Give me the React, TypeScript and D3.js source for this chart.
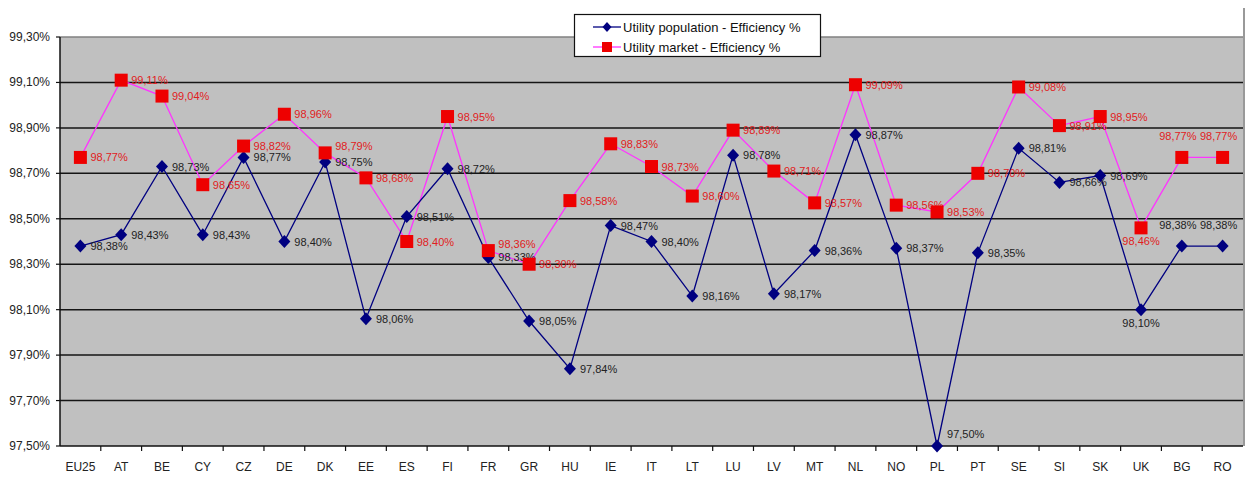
import React from "react";
import * as d3 from "d3";

const categories = ["EU25","AT","BE","CY","CZ","DE","DK","EE","ES","FI","FR","GR","HU","IE","IT","LT","LU","LV","MT","NL","NO","PL","PT","SE","SI","SK","UK","BG","RO"];
const populationEff = [98.38,98.43,98.73,98.43,98.77,98.40,98.75,98.06,98.51,98.72,98.33,98.05,97.84,98.47,98.40,98.16,98.78,98.17,98.36,98.87,98.37,97.50,98.35,98.81,98.66,98.69,98.10,98.38,98.38];
const marketEff = [98.77,99.11,99.04,98.65,98.82,98.96,98.79,98.68,98.40,98.95,98.36,98.30,98.58,98.83,98.73,98.60,98.89,98.71,98.57,99.09,98.56,98.53,98.70,99.08,98.91,98.95,98.46,98.77,98.77];
const yTicks = [97.5,97.7,97.9,98.1,98.3,98.5,98.7,98.9,99.1,99.3];
const seriesNames = ["Utility population - Efficiency %","Utility market - Efficiency %"];

// label placement for a few crowded points: "r" right, "a" above, "b" below, "ar" above-right
const popPlace: Record<string,string> = { PL: "ar", UK: "b", BG: "a", RO: "a" };
const mktPlace: Record<string,string> = { UK: "b", BG: "a", RO: "a", FR: "ru", DK: "ru" };

const W = 1245, H = 479;
const left = 60, right = 1243, top = 37, bottom = 446;
const FONT = "Arial, 'Liberation Sans', sans-serif";

const fmt = (v: number) => v.toFixed(2).replace(".", ",") + "%";

function labelPos(px: number, py: number, place: string) {
  switch (place) {
    case "a": return { x: px - 4, y: py - 17, anchor: "middle" };
    case "b": return { x: px, y: py + 17, anchor: "middle" };
    case "ar": return { x: px + 10, y: py - 8, anchor: "start" };
    case "ru": return { x: px + 10, y: py - 3, anchor: "start" };
    default: return { x: px + 10, y: py + 4, anchor: "start" };
  }
}

export default function App() {
  const x = d3.scaleBand<string>().domain(categories).range([left, right]).paddingInner(0).paddingOuter(0);
  const cx = (c: string) => (x(c) as number) + x.bandwidth() / 2;
  const y = d3.scaleLinear().domain([97.5, 99.3]).range([bottom, top]);

  const line = d3.line<number>().x((_, i) => cx(categories[i])).y((v) => y(v));

  const diamond = (px: number, py: number, r = 6) =>
    `M${px},${py - r - 0.5}L${px + r},${py}L${px},${py + r + 0.5}L${px - r},${py}Z`;

  const popColor = "#000080";
  const mktLine = "#FF33FF";
  const mktColor = "#EE0000";

  return (
    <div style={{ position: "fixed", left: 0, top: 0 }}>
      <svg width={W} height={H} style={{ display: "block", background: "#fff" }} fontFamily={FONT}>
        <rect x={left} y={top} width={right - left} height={bottom - top} fill="#C0C0C0" />
        <line x1={left} x2={right} y1={top} y2={top} stroke="#808080" strokeWidth={1.5} />
        <line x1={right + 1} x2={right + 1} y1={8} y2={bottom} stroke="#555" strokeWidth={1.2} />
        {yTicks.slice(1, -1).map((t) => (
          <line key={t} x1={left} x2={right} y1={y(t)} y2={y(t)} stroke="#151515" strokeWidth={1.5} />
        ))}
        {/* axes */}
        <line x1={left} x2={left} y1={top} y2={bottom} stroke="#111" strokeWidth={1.5} />
        <line x1={left} x2={right} y1={bottom} y2={bottom} stroke="#111" strokeWidth={1.5} />
        {yTicks.map((t) => (
          <g key={t}>
            <line x1={left - 4} x2={left} y1={y(t)} y2={y(t)} stroke="#111" strokeWidth={1.2} />
            <text x={50} y={y(t) + 4} textAnchor="end" fontSize={12} fill="#222">{fmt(t)}</text>
          </g>
        ))}
        {categories.map((c, i) => (
          <g key={c}>
            {i > 0 && <line x1={x(c) as number} x2={x(c) as number} y1={bottom} y2={bottom + 5} stroke="#111" strokeWidth={1.2} />}
            <text x={cx(c)} y={471} textAnchor="middle" fontSize={12} fill="#222">{c}</text>
          </g>
        ))}

        {/* series lines */}
        <path d={line(marketEff) as string} fill="none" stroke={mktLine} strokeWidth={1.3} />
        <path d={line(populationEff) as string} fill="none" stroke={popColor} strokeWidth={1.3} />

        {/* markers and labels: population */}
        {populationEff.map((v, i) => {
          const c = categories[i];
          const px = cx(c), py = y(v);
          const p = labelPos(px, py, popPlace[c] || "r");
          return (
            <g key={"p" + c}>
              <path d={diamond(px, py)} fill={popColor} />
              <text x={p.x} y={p.y} textAnchor={p.anchor as any} fontSize={11} fill="#222">{fmt(v)}</text>
            </g>
          );
        })}
        {/* markers and labels: market */}
        {marketEff.map((v, i) => {
          const c = categories[i];
          const px = cx(c), py = y(v);
          const p = labelPos(px, py, mktPlace[c] || "r");
          return (
            <g key={"m" + c}>
              <rect x={px - 6.5} y={py - 6.5} width={13} height={13} fill={mktColor} />
              <text x={p.x} y={p.y} textAnchor={p.anchor as any} fontSize={11} fill="#E02020">{fmt(v)}</text>
            </g>
          );
        })}

        {/* legend */}
        <g>
          <rect x={574.5} y={14.5} width={246} height={42} fill="#fff" stroke="#111" strokeWidth={1.2} />
          <line x1={593} x2={621} y1={27} y2={27} stroke={popColor} strokeWidth={1.3} />
          <path d={diamond(607, 27, 4.5)} fill={popColor} />
          <text x={623} y={31.5} fontSize={13} fill="#111">{seriesNames[0]}</text>
          <line x1={593} x2={621} y1={47} y2={47} stroke={mktLine} strokeWidth={1.3} />
          <rect x={602} y={42} width={10} height={10} fill={mktColor} />
          <text x={623} y={51.5} fontSize={13} fill="#111">{seriesNames[1]}</text>
        </g>
      </svg>
    </div>
  );
}
